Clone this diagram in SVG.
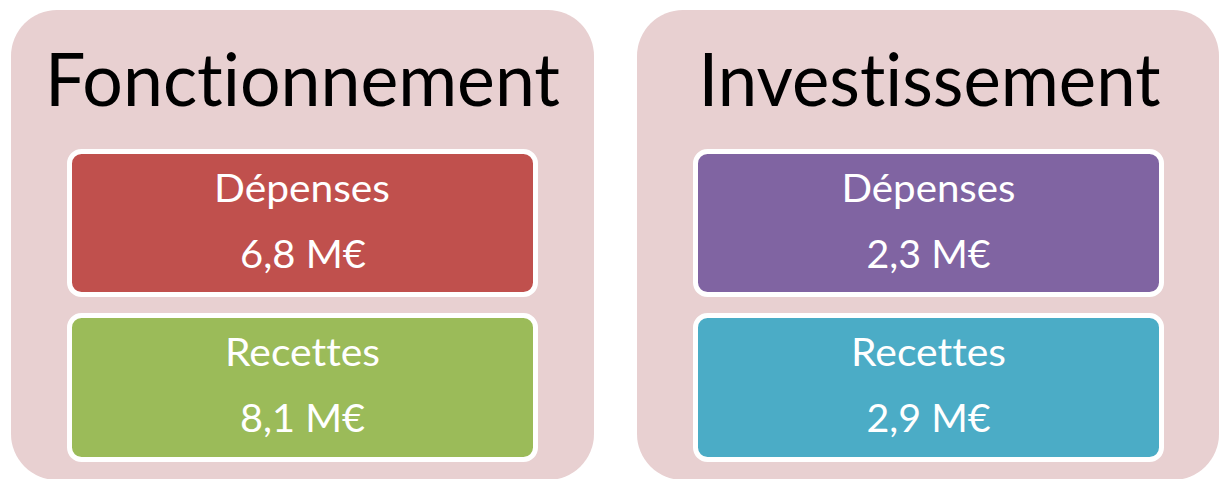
<svg xmlns="http://www.w3.org/2000/svg" width="1220" height="479" viewBox="0 0 1220 479">
<style>
.outer{fill:#E8D0D1}
.inner{stroke:#FFFFFF;stroke-width:5}
text{font-variant-ligatures:none;font-feature-settings:"liga" 0,"clig" 0,"dlig" 0}
.title{font-family:Lato,"Open Sans",sans-serif;font-size:74px;fill:#000000;text-anchor:middle}
.lbl{font-family:Lato,"Open Sans",sans-serif;font-size:38px;fill:#FFFFFF;text-anchor:middle}
</style>
<rect width="1220" height="479" fill="#FFFFFF"/>
<g id="fonctionnement">
<rect class="outer" x="11" y="10" width="583" height="470" rx="46" ry="46"/>
<text class="title" x="302.5" y="106" textLength="515" lengthAdjust="spacingAndGlyphs">Fonctionnement</text>
</g>
<g id="fonct-depenses">
<rect class="inner" x="69.5" y="151.5" width="466" height="143" rx="12" fill="#C0504D"/>
<text class="lbl" x="302" y="202" textLength="176" lengthAdjust="spacingAndGlyphs">Dépenses</text>
<text class="lbl" x="303" y="268" textLength="126" lengthAdjust="spacingAndGlyphs">6,8 M€</text>
</g>
<g id="fonct-recettes">
<rect class="inner" x="69.5" y="315.5" width="466" height="144" rx="12" fill="#9BBB59"/>
<text class="lbl" x="302.5" y="366" textLength="155" lengthAdjust="spacingAndGlyphs">Recettes</text>
<text class="lbl" x="302.5" y="432" textLength="125" lengthAdjust="spacingAndGlyphs">8,1 M€</text>
</g>
<g id="investissement">
<rect class="outer" x="637" y="10" width="582" height="470" rx="46" ry="46"/>
<text class="title" x="929.5" y="106" textLength="462" lengthAdjust="spacingAndGlyphs">Investissement</text>
</g>
<g id="invest-depenses">
<rect class="inner" x="695.5" y="151.5" width="466" height="143" rx="12" fill="#8064A2"/>
<text class="lbl" x="928.5" y="202" textLength="174" lengthAdjust="spacingAndGlyphs">Dépenses</text>
<text class="lbl" x="928.5" y="268" textLength="124" lengthAdjust="spacingAndGlyphs">2,3 M€</text>
</g>
<g id="invest-recettes">
<rect class="inner" x="695.5" y="315.5" width="466" height="144" rx="12" fill="#4BACC6"/>
<text class="lbl" x="928.5" y="366" textLength="155" lengthAdjust="spacingAndGlyphs">Recettes</text>
<text class="lbl" x="928.5" y="432" textLength="124" lengthAdjust="spacingAndGlyphs">2,9 M€</text>
</g>
<g id="connectors"/>
</svg>
